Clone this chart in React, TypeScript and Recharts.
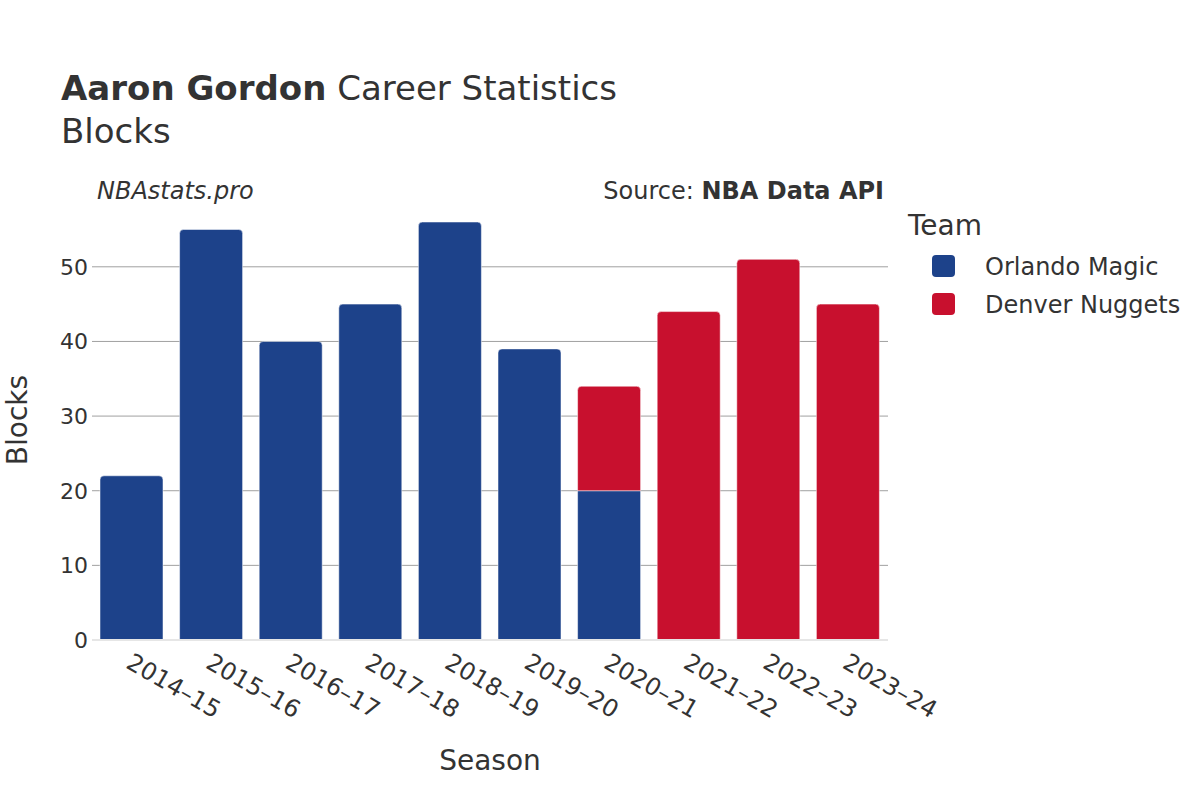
import { FC } from 'react';
import { BarChart, Bar, XAxis, YAxis, CartesianGrid } from 'recharts';

const seasons = ['2014–15', '2015–16', '2016–17', '2017–18', '2018–19', '2019–20', '2020–21', '2021–22', '2022–23', '2023–24'];
const orlandoBlocks = [22, 55, 40, 45, 56, 39, 20, 0, 0, 0];
const denverBlocks = [0, 0, 0, 0, 0, 0, 14, 44, 51, 45];
const yTicks = [0, 10, 20, 30, 40, 50];
const gridValues = [10, 20, 30, 40, 50];

const ORLANDO = '#1d428a';
const DENVER = '#c8102e';
const TEXT = '#333333';
const FONT = '"DejaVu Sans", Verdana, sans-serif';

const rows = seasons.map((season, i) => ({
  season,
  orlando: orlandoBlocks[i],
  denver: denverBlocks[i],
}));

const roundedTop = (x: number, y: number, w: number, h: number, r: number) =>
  `M${x},${y + h} L${x},${y + r} Q${x},${y} ${x + r},${y} L${x + w - r},${y} Q${x + w},${y} ${x + w},${y + r} L${x + w},${y + h} Z`;

const makeShape = (isTop: (p: any) => boolean) => (props: any) => {
  const { x, y, width, height, fill, payload } = props;
  if (!height || height <= 0) return <g />;
  const r = isTop(payload) ? Math.min(4, height) : 0;
  return (
    <path
      d={roundedTop(x, y, width, height, r)}
      fill={fill}
      stroke="rgba(255,255,255,0.5)"
      strokeWidth={1}
    />
  );
};

const orlandoShape = makeShape((p) => !p.denver);
const denverShape = makeShape(() => true);

const SeasonTick: FC<any> = ({ x, y, payload }) => (
  <text
    x={0}
    y={0}
    transform={`translate(${x - 7},${y + 25}) rotate(30)`}
    textAnchor="start"
    fontSize={24}
    fill={TEXT}
    fontFamily={FONT}
  >
    {payload.value}
  </text>
);

const App: FC = () => (
  <div style={{ position: 'absolute', left: 0, top: 0, width: 1200, height: 800, background: '#fff', fontFamily: FONT }}>
    <BarChart
      width={1200}
      height={800}
      data={rows}
      margin={{ top: 200, right: 312, bottom: 0, left: 0 }}
      barSize={63}
    >
      <CartesianGrid vertical={false} horizontalValues={gridValues} stroke="#a0a0a0" strokeWidth={1} />
      <XAxis
        dataKey="season"
        axisLine={{ stroke: '#e6e6e6', strokeWidth: 2 }}
        tickLine={false}
        tickSize={0}
        tick={<SeasonTick />}
        interval={0}
        height={160}
      />
      <YAxis
        domain={[0, 58.95]}
        ticks={yTicks}
        axisLine={false}
        tickLine={false}
        tickSize={0}
        tickMargin={4}
        width={92}
        tick={{ fontSize: 22, fill: TEXT, fontFamily: FONT }}
      />
      <Bar dataKey="orlando" stackId="team" fill={ORLANDO} shape={orlandoShape} isAnimationActive={false} />
      <Bar dataKey="denver" stackId="team" fill={DENVER} shape={denverShape} isAnimationActive={false} />
    </BarChart>
    <svg
      width={1200}
      height={800}
      style={{ position: 'absolute', left: 0, top: 0, pointerEvents: 'none' }}
      fontFamily={FONT}
      fill={TEXT}
    >
      <text x={61} y={100} fontSize={34}>
        <tspan fontWeight="bold">Aaron Gordon</tspan> Career Statistics
      </text>
      <text x={61} y={143} fontSize={34}>Blocks</text>
      <text x={97} y={199} fontSize={24} fontStyle="italic">NBAstats.pro</text>
      <text x={884} y={199} fontSize={24} textAnchor="end">
        Source: <tspan fontWeight="bold">NBA Data API</tspan>
      </text>
      <text x={490} y={770} fontSize={28} textAnchor="middle">Season</text>
      <text transform="translate(27,420) rotate(-90)" fontSize={28} textAnchor="middle">Blocks</text>
      <text x={908} y={235} fontSize={28}>Team</text>
      <rect x={932} y={255} width={23} height={22} rx={4} fill={ORLANDO} />
      <text x={985} y={275} fontSize={24}>Orlando Magic</text>
      <rect x={932} y={293} width={23} height={22} rx={4} fill={DENVER} />
      <text x={985} y={313} fontSize={24}>Denver Nuggets</text>
    </svg>
  </div>
);

export default App;
